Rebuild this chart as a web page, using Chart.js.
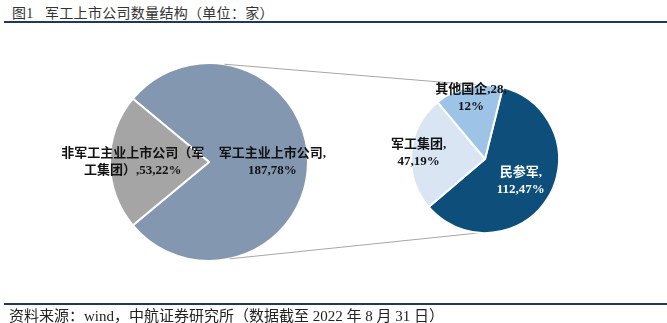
<!DOCTYPE html>
<html>
<head>
<meta charset="utf-8">
<script src="https://cdn.jsdelivr.net/npm/chart.js@4.4.1/dist/chart.umd.min.js"></script>
<style>
  html, body { margin: 0; padding: 0; background: #fff; }
  #wrap { position: relative; width: 667px; height: 323px; overflow: hidden; }
  #wrap canvas { position: absolute; left: 0; top: 0; }
  .title { position: absolute; left: 12px; top: 2px; font: 14px "Liberation Serif", "Noto Sans CJK SC"; color: #333; letter-spacing: 0.3px; }
  .rule { position: absolute; left: 4px; right: 0; height: 2px; background: #1d3a5c; }
  .src { position: absolute; left: 9px; top: 304px; font: 15px "Liberation Serif", "Noto Sans CJK SC"; color: #222; }
</style>
</head>
<body>
<div id="wrap">
  <div class="title">图1&nbsp;&nbsp;&nbsp;军工上市公司数量结构（单位：家）</div>
  <div class="rule" style="top:21px"></div>
  <canvas id="left" width="667" height="323"></canvas>
  <canvas id="right" width="667" height="323"></canvas>
  <div class="rule" style="top:303px"></div>
  <div class="src">资料来源：wind，中航证券研究所（数据截至 2022 年 8 月 31 日）</div>
</div>
<script>
// 主饼图
var mainLabels = ['军工主业上市公司', '非军工主业上市公司（军工集团）'];
var mainValues = [187, 53];
var mainPct = ['78%', '22%'];
// 子饼图（军工主业拆分）
var subLabels = ['民参军', '军工集团', '其他国企'];
var subValues = [112, 47, 28];
var subPct = ['47%', '19%', '12%'];

var FONT = '"Liberation Serif", "Noto Sans CJK SC"';

// 标签文字行和位置（半径比例）
var mainText = [['军工主业上市公司,', '187,78%'], ['非军工主业上市公司（军', '工集团）,53,22%']];
var mainPos = [0.64, 0.77];
var subText = [['民参军,', '112,47%'], ['军工集团,', '47,19%'], ['其他国企,28,', '12%']];
var subPos = [0.57, 0.9, 0.85];

function labelPlugin(lines, pos, colors) {
  return {
    id: 'lbl',
    afterDatasetsDraw: function(chart) {
      var ctx = chart.ctx;
      var arcs = chart.getDatasetMeta(0).data;
      ctx.save();
      ctx.font = 'bold 13px ' + FONT;
      ctx.textAlign = 'center';
      ctx.textBaseline = 'middle';
      arcs.forEach(function(a, i) {
        var mid = (a.startAngle + a.endAngle) / 2;
        var r = a.outerRadius * pos[i];
        var x = a.x + Math.cos(mid) * r;
        var y = a.y + Math.sin(mid) * r;
        ctx.fillStyle = colors[i];
        var ls = lines[i];
        ls.forEach(function(t, k) {
          ctx.fillText(t, x, y + (k - (ls.length - 1) / 2) * 17);
        });
      });
      ctx.restore();
    }
  };
}

var leftChart = new Chart(document.getElementById('left'), {
  type: 'pie',
  data: {
    labels: mainLabels,
    datasets: [{
      data: mainValues,
      backgroundColor: ['#8497b0', '#a5a5a5'],
      borderColor: '#ffffff',
      borderWidth: 2
    }]
  },
  options: {
    responsive: false,
    animation: false,
    rotation: -50.25,
    layout: { padding: { left: 109, right: 358, top: 62, bottom: 61 } },
    plugins: { legend: { display: false }, tooltip: { enabled: false } }
  },
  plugins: [labelPlugin(mainText, mainPos, ['#111', '#111'])]
});

// 连接线角度（度，0 为正上方，顺时针）
var linkMain = [9, 168];
var linkSub = [14, 184];

var connector = {
  id: 'links',
  beforeDatasetsDraw: function(chart) {
    var a = leftChart.getDatasetMeta(0).data[0];
    var b = chart.getDatasetMeta(0).data[0];
    var ctx = chart.ctx;
    ctx.save();
    ctx.strokeStyle = '#a6a6a6';
    ctx.lineWidth = 1;
    for (var i = 0; i < 2; i++) {
      var t1 = (linkMain[i] - 90) * Math.PI / 180;
      var t2 = (linkSub[i] - 90) * Math.PI / 180;
      ctx.beginPath();
      ctx.moveTo(a.x + Math.cos(t1) * a.outerRadius, a.y + Math.sin(t1) * a.outerRadius);
      ctx.lineTo(b.x + Math.cos(t2) * b.outerRadius, b.y + Math.sin(t2) * b.outerRadius);
      ctx.stroke();
    }
    ctx.restore();
  }
};

new Chart(document.getElementById('right'), {
  type: 'pie',
  data: {
    labels: subLabels,
    datasets: [{
      data: subValues,
      backgroundColor: ['#0d4f7a', '#dae5f3', '#9dc3e6'],
      borderColor: '#ffffff',
      borderWidth: 2
    }]
  },
  options: {
    responsive: false,
    animation: false,
    rotation: 14,
    layout: { padding: { left: 410, right: 107, top: 84, bottom: 89 } },
    plugins: { legend: { display: false }, tooltip: { enabled: false } }
  },
  plugins: [connector, labelPlugin(subText, subPos, ['#ffffff', '#111', '#111'])]
});
</script>
</body>
</html>
